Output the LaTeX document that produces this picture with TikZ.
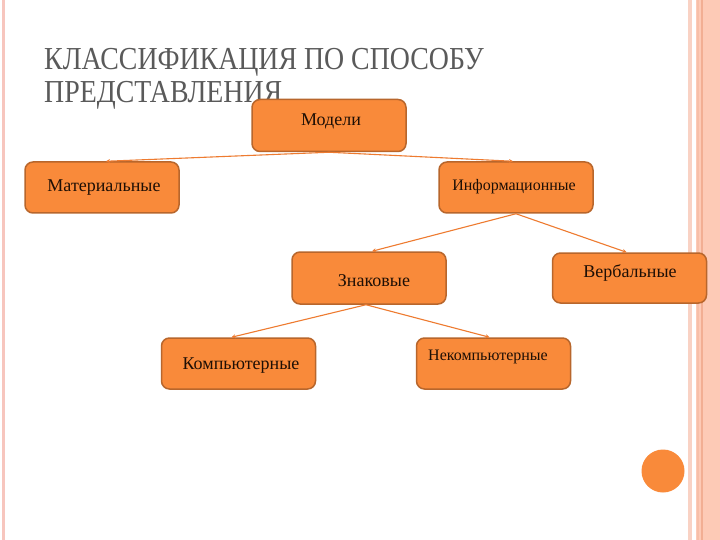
\documentclass[tikz,border=0pt]{standalone}
\usepackage{fontspec}
\setmainfont{Liberation Serif}
\usetikzlibrary{arrows.meta}
\definecolor{boxfill}{HTML}{F98A3A}
\definecolor{boxline}{HTML}{B8662C}
\definecolor{linkc}{HTML}{EE7B30}
\definecolor{titlec}{HTML}{5A5A5A}
\definecolor{txtc}{HTML}{1E0F05}
\definecolor{stripeA}{HTML}{F9D2C4}
\definecolor{stripeB}{HTML}{FDCAB6}
\definecolor{stripeC}{HTML}{F2AE93}
\definecolor{stripeD}{HTML}{F7BFA8}
\definecolor{stripeL}{HTML}{F7C6BE}
\tikzset{
  box/.style={draw=boxline, line width=1.5pt, fill=boxfill, rounded corners=8pt,
    minimum width=154pt, minimum height=52pt, inner sep=0pt},
  lbl/.style={text=txtc, inner sep=0pt, anchor=center},
  link/.style={draw=linkc, line width=1.1pt, -{Stealth[length=4pt,width=4pt]}},
  ttl/.style={text=titlec, font=\fontsize{32}{35}\selectfont, anchor=base west, inner sep=0pt}
}
\begin{document}
\begin{tikzpicture}[x=1pt,y=-1pt]
\useasboundingbox (0,0) rectangle (720,540);
\fill[white] (0,0) rectangle (720,540);
% decorative stripes
\fill[stripeL] (2,0) rectangle (5,540);
\fill[stripeA] (688.3,0) rectangle (691.7,540);
\fill[stripeB] (696,0) rectangle (720,540);
\fill[stripeD] (697,0) rectangle (698.5,540);
\fill[stripeC] (700.7,0) rectangle (703.3,540);
\fill[boxfill] (663,471) circle (21.5);
% title
\node[ttl] (t1) at (44,70) {\scalebox{0.87}[1]{КЛАССИФИКАЦИЯ ПО СПОСОБУ}};
\node[ttl] (t2) at (44,103) {\scalebox{0.87}[1]{ПРЕДСТАВЛЕНИЯ}};
% boxes
\node[box] (models) at (329,125.5) {};
\node[box, minimum height=51pt] (mat) at (102,187.5) {};
\node[box, minimum height=51pt] (inf) at (516,187.5) {};
\node[box] (zn) at (369,278) {};
\node[box, minimum height=50pt] (verb) at (629.5,278) {};
\node[box, minimum height=51pt] (comp) at (238.5,363.5) {};
\node[box, minimum height=51pt] (noncomp) at (493.5,363.5) {};
% labels
\node[lbl, font=\fontsize{18}{21}\selectfont] (models-t) at (331,121) {Модели};
\node[lbl, font=\fontsize{18}{21}\selectfont] (mat-t) at (104,188) {Материальные};
\node[lbl, font=\fontsize{16}{19}\selectfont] (inf-t) at (514,187) {Информационные};
\node[lbl, font=\fontsize{18}{21}\selectfont] (zn-t) at (374,281) {Знаковые};
\node[lbl, font=\fontsize{18}{21}\selectfont] (verb-t) at (630,273) {Вербальные};
\node[lbl, font=\fontsize{18}{21}\selectfont] (comp-t) at (241,366) {Компьютерные};
\node[lbl, font=\fontsize{16}{19}\selectfont] (noncomp-t) at (488,357) {Некомпьютерные};
% connectors
\draw[link] (models.south) -- ([xshift=4pt]mat.north);
\draw[link] (models.south) -- ([xshift=-3pt]inf.north);
\draw[link] (inf.south) -- ([xshift=3pt]zn.north);
\draw[link] (inf.south) -- ([xshift=-3pt]verb.north);
\draw[link] ([xshift=-3pt]zn.south) -- ([xshift=-7pt]comp.north);
\draw[link] ([xshift=-3pt]zn.south) -- ([xshift=-4pt]noncomp.north);
\end{tikzpicture}
\end{document}
